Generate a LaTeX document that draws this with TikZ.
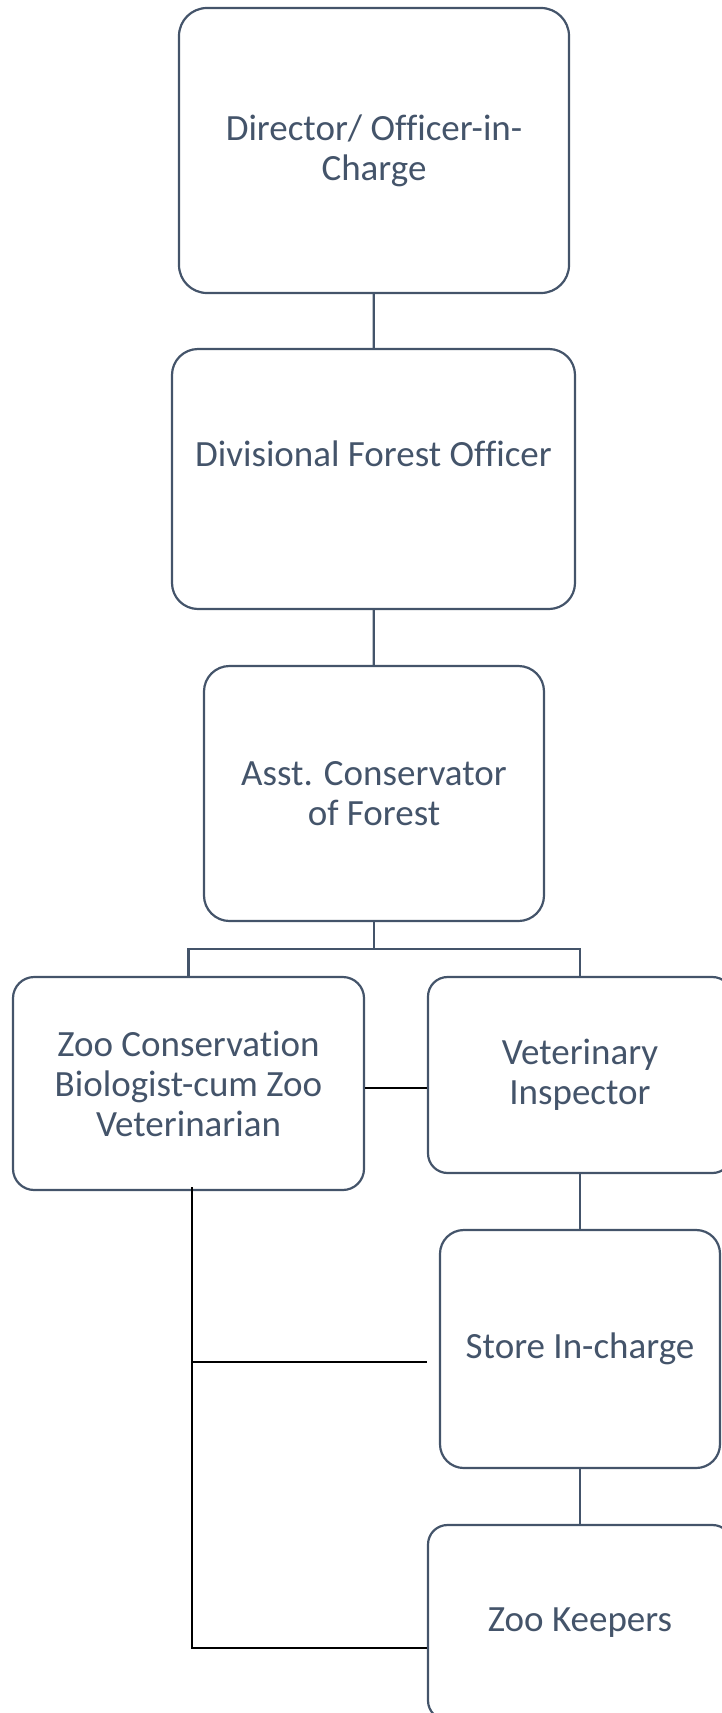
\documentclass[tikz,border=0pt]{standalone}
\usepackage{fontspec}
\setmainfont{Carlito}[Ligatures={NoCommon,NoRequired,NoContextual}]
\usepackage{tikz}
\usetikzlibrary{arrows}

\definecolor{slate}{HTML}{44546A}

\tikzset{
orgbox/.style={draw=slate, line width=1.1pt, rounded corners=#1, text=slate, align=center, inner sep=0pt, font=\fontsize{18.5}{20}\selectfont},
orgbox/.default=12pt,
tree/.style={draw=slate, line width=1.1pt},
plain/.style={draw=black, line width=0.9pt}
}

\begin{document}
\begin{tikzpicture}[x=0.5pt, y=-0.5pt]
\useasboundingbox (0,0) rectangle (722,1713);
\clip (0,0) rectangle (722,1713);

\node[orgbox=14pt, minimum width=195pt, minimum height=142.5pt, anchor=center] (1) at (374,150.5)
{Director/ Officer-in-\\Charge};

\node[orgbox=13pt, minimum width=201.5pt, minimum height=130pt, anchor=center,
label={[text=slate, font=\fontsize{18.5}{20}\selectfont, yshift=12.5pt]center:Divisional Forest Officer}] (2) at (373.5,479)
{};

\node[orgbox=12.75pt, minimum width=170pt, minimum height=127.5pt, anchor=center] (3) at (374,793.5)
{Asst. Conservator\\of Forest};

\node[orgbox=10.6pt, minimum width=175.5pt, minimum height=106.5pt, anchor=center] (4) at (188.5,1083.5)
{Zoo Conservat\kern0pt ion\\Biologist-cum Zoo\\Veterinarian};

\node[orgbox=9.8pt, minimum width=152pt, minimum height=98pt, anchor=center] (5) at (580,1075)
{Veterinary\\Inspector};

\node[orgbox=11.9pt, minimum width=140pt, minimum height=119pt, anchor=center] (6) at (580,1349)
{Store In-charge};

\node[orgbox=9.75pt, minimum width=152pt, minimum height=97.5pt, anchor=center] (7) at (580,1622.5)
{Zoo Keepers};

\coordinate (b) at (374,949);
\coordinate (t) at (192,1187);
\coordinate (s) at (192,1362);
\coordinate (se) at (427,1362);
\coordinate (k) at (192,1648);

\draw[tree] (1) -- (2);

\draw[tree] (2) -- (3);

\draw[tree] (3) -- (b);

\draw[tree] (4.north) |- (b) -| (5.north);

\draw[tree] (5) -- (6);

\draw[tree] (6) -- (7);

\draw[plain] ([yshift=-2.25pt]4.east) coordinate (m) -- (m -| 5.west);

\draw[plain] (t) -- (k) -- (k -| 7.west);

\draw[plain] (s) -- (se);
\end{tikzpicture}
\end{document}
